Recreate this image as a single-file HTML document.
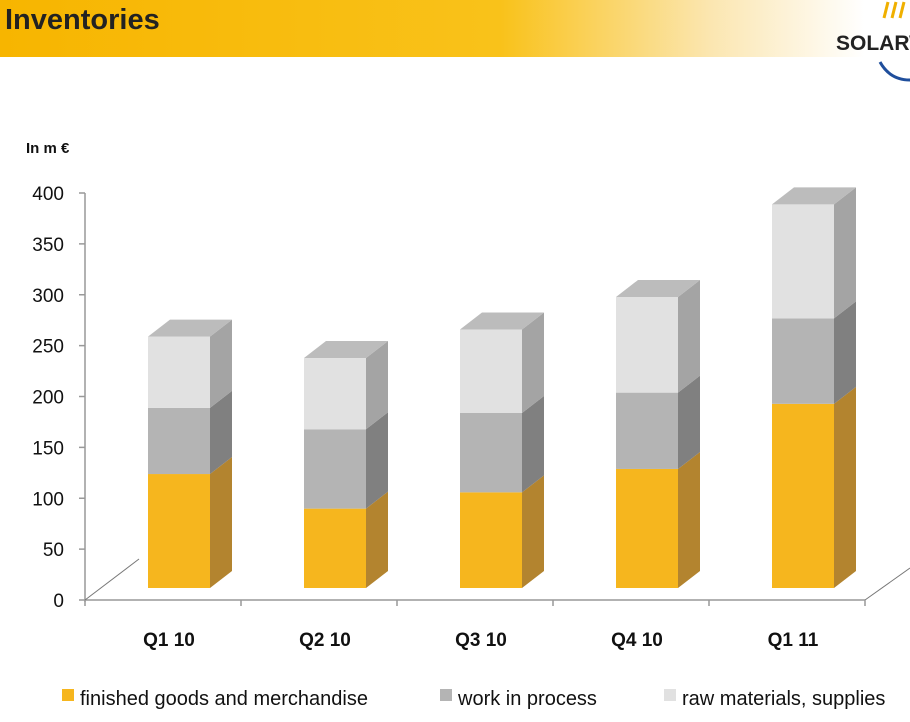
<!DOCTYPE html>
<html><head><meta charset="utf-8"><style>
body{margin:0;width:910px;height:722px;overflow:hidden;background:#fff;font-family:"Liberation Sans",sans-serif;}
#hdr{position:absolute;left:0;top:0;width:910px;height:57px;background:linear-gradient(90deg,#f7b500 0%,#f9c21a 55%,#fbe6b0 78%,#fff 95%);}
#title{position:absolute;left:5px;top:4px;font-size:29px;color:#222;font-weight:600;}
#logo{position:absolute;left:836px;top:32px;font-size:21px;font-weight:bold;color:#222;}
</style></head><body>
<div id="hdr"></div>
<div id="title">Inventories</div>
<div id="logo">SOLARW</div>
<svg id="chart" width="910" height="722" style="position:absolute;left:0;top:0"></svg>
<script>
const categories=["Q1 10","Q2 10","Q3 10","Q4 10","Q1 11"];
const finished=[112,78,94,117,181];
const wip=[65,78,78,75,84];
const raw=[70,70,82,94,112];
const yTicks=[0,50,100,150,200,250,300,350,400];
const seriesNames=["finished goods and merchandise","work in process","raw materials, supplies"];
const NS="http://www.w3.org/2000/svg";
const svg=document.getElementById('chart');
function el(t,a,p){const e=document.createElementNS(NS,t);for(const k in a)e.setAttribute(k,a[k]);(p||svg).appendChild(e);return e;}
const y0=600,pxPer=407/400,barBase=588;
function yAxis(v){return y0-v*pxPer;}
function yBar(v){return barBase-v*pxPer;}
function xCenter(i){return 179+i*156;}
const dx=22,dy=-17,bw=62;
// logo arc
el('path',{d:'M880,62 Q890,80 910,80',stroke:'#1f4e9c','stroke-width':3,fill:'none'});
el('path',{d:'M884,18 L888,2 M892,18 L896,2 M900,18 L904,2',stroke:'#f0b000','stroke-width':3,fill:'none'});
let a=el('line',{x1:85,y1:193,x2:85,y2:602,stroke:'#999','stroke-width':1.5});

a=el('line',{x1:85,y1:600,x2:865,y2:600,stroke:'#999','stroke-width':1.5});

el('line',{x1:85,y1:600,x2:139,y2:559,stroke:'#777','stroke-width':1});
el('line',{x1:865,y1:600,x2:910,y2:568,stroke:'#777','stroke-width':1});
for(let i=0;i<=5;i++){el('line',{x1:85+i*156,y1:600,x2:85+i*156,y2:606,stroke:'#999','stroke-width':1.5});}
yTicks.forEach(v=>{const y=yAxis(v);
el('line',{x1:79,y1:y,x2:85,y2:y,stroke:'#999','stroke-width':1.5});
const t=el('text',{x:64,y:y+7,'text-anchor':'end','font-size':19,fill:'#111'});t.textContent=v;
});
let u=el('text',{x:26,y:153,'font-size':15,'font-weight':'bold',fill:'#111'});u.textContent='In m €';

const cols=[['#f6b61e','#b3842f','#c9a050'],['#b4b4b4','#808080','#a8a8a8'],['#e1e1e1','#a4a4a4','#bcbcbc']];
categories.forEach((c,i)=>{
 const x=xCenter(i)-bw/2;let acc=0;
 const segs=[finished[i],wip[i],raw[i]];
 segs.forEach((v,s)=>{
  const yb=yBar(acc),yt=yBar(acc+v);acc+=v;
  const r=el('rect',{x:x,y:yt,width:bw,height:yb-yt,fill:cols[s][0]});
  
  el('polygon',{points:`${x+bw},${yb} ${x+bw+dx},${yb+dy} ${x+bw+dx},${yt+dy} ${x+bw},${yt}`,fill:cols[s][1]});
  if(s==2){el('polygon',{points:`${x},${yt} ${x+dx},${yt+dy} ${x+bw+dx},${yt+dy} ${x+bw},${yt}`,fill:cols[s][2]});}
 });
 const t=el('text',{x:xCenter(i)-10,y:646,'text-anchor':'middle','font-size':19,'font-weight':'bold',fill:'#111'});t.textContent=c;
 
});
const lx=[62,440,664];
seriesNames.forEach((n,s)=>{
 const r=el('rect',{x:lx[s],y:689,width:12,height:12,fill:cols[s][0]});
 
 const t=el('text',{x:lx[s]+18,y:705,'font-size':20,fill:'#111'});t.textContent=n;
 
});
</script>
</body></html>
